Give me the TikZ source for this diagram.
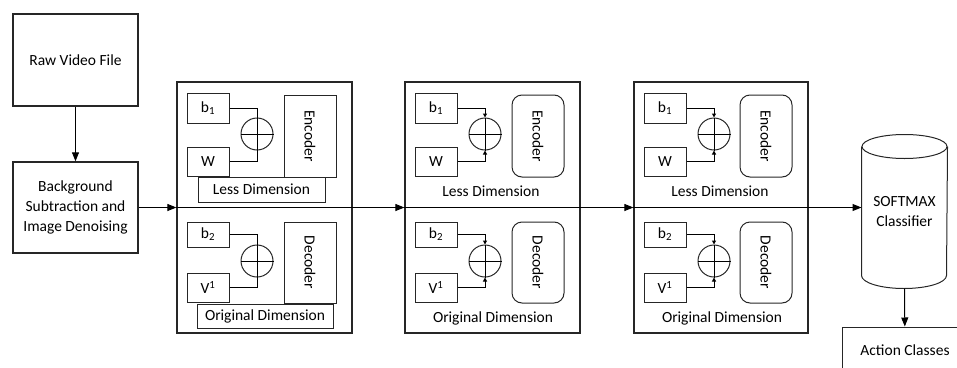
\documentclass[tikz,border=0pt]{standalone}
\usepackage{fontspec}
\setmainfont{Carlito}
\usetikzlibrary{arrows.meta,positioning}

\tikzset{
  box/.style={draw=black!85,line width=1.4pt,inner sep=0pt,align=center},
  layer/.style={draw=black!85,line width=1.2pt,minimum width=175pt,minimum height=251pt},
  par/.style={draw=black!85,line width=1pt,minimum width=42pt,inner sep=0pt},
  sum/.style={circle,draw=black!85,line width=1pt,minimum size=32pt,inner sep=0pt},
  coder/.style={draw=black!85,line width=1pt,rotate=-90,minimum height=52pt,inner sep=0pt},
  dimbox/.style={draw=black!85,line width=1pt,inner sep=0pt},
  tip/.style={-{Triangle[length=4pt,width=4pt]}}
}

\begin{document}
\begin{tikzpicture}[x=1pt,y=-1pt,>={Triangle[length=9pt,width=7pt]},
  every node/.append style={font=\fontsize{15.5}{20}\selectfont},
  line width=1pt]
\clip (0,0) rectangle (957,367);

\path
(75.5,60)    node[box,minimum width=125pt,minimum height=92pt] (raw) {Raw Video File}
(75.5,207.5) node[box,minimum width=125pt,minimum height=91pt] (bg) {Background\\Subtraction and\\Image Denoising}
(264.5,207.5) node[layer] (L1) {}
(492.5,207.5) node[layer] (L2) {}
(721,207.5)   node[layer,minimum width=174pt] (L3) {};

% layer 1
\path
(208,108)   node[par,minimum height=30pt] (b11) {b\textsubscript{1}}
(208,161.5) node[par,minimum height=29pt] (w1) {W}
(257,134)   node[sum] (s11) {}
(310,136)   node[coder,minimum width=82pt] (enc1) {Encoder}
(261.5,189.5) node[dimbox,minimum width=127pt,minimum height=25pt] (ld1) {Less Dimension}
(208,234.5) node[par,minimum height=25pt] (b21) {b\textsubscript{2}}
(208,287.5) node[par,minimum height=29pt] (v1) {V\textsuperscript{1}}
(257,261)   node[sum] (s21) {}
(310,262.5) node[coder,minimum width=81pt] (dec1) {Decoder}
(265,316)   node[dimbox,minimum width=136pt,minimum height=24pt] (od1) {Original Dimension};

% layer 2
\path
(436,108)   node[par,minimum height=30pt] (b12) {b\textsubscript{1}}
(436,161.5) node[par,minimum height=29pt] (w2) {W}
(485,134)   node[sum] (s12) {}
(538,136)   node[coder,rounded corners=10pt,minimum width=82pt] (enc2) {Encoder}
(491,191)   node (ld2) {Less Dimension}
(436,234.5) node[par,minimum height=25pt] (b22) {b\textsubscript{2}}
(436,287.5) node[par,minimum height=29pt] (v2) {V\textsuperscript{1}}
(485,261)   node[sum] (s22) {}
(538,262.5) node[coder,rounded corners=10pt,minimum width=81pt] (dec2) {Decoder}
(493,318)   node (od2) {Original Dimension};

% layer 3
\path
(665,108)   node[par,minimum height=30pt] (b13) {b\textsubscript{1}}
(665,161.5) node[par,minimum height=29pt] (w3) {W}
(714,134)   node[sum] (s13) {}
(766,136)   node[coder,rounded corners=10pt,minimum width=82pt] (enc3) {Encoder}
(720,191)   node (ld3) {Less Dimension}
(665,234.5) node[par,minimum height=25pt] (b23) {b\textsubscript{2}}
(665,287.5) node[par,minimum height=29pt] (v3) {V\textsuperscript{1}}
(714,261)   node[sum] (s23) {}
(766,262.5) node[coder,rounded corners=10pt,minimum width=81pt] (dec3) {Decoder}
(722,318)   node (od3) {Original Dimension};

% classifier drum
\path
(904.5,211.5) node[minimum width=85pt,minimum height=153pt,inner sep=0pt,align=center] (soft) {SOFTMAX\\Classifier}
(905,350) node[box,line width=1pt,minimum width=126pt,minimum height=46pt] (act) {Action Classes};
\draw[black!85] ([yshift=-12pt]soft.north) ellipse [x radius=42.5pt,y radius=12pt];
\draw[black!85] ([yshift=-12pt]soft.north west) -- ([yshift=13pt]soft.south west)
  arc[start angle=180,end angle=360,x radius=42.5pt,y radius=13pt] -- ([yshift=-12pt]soft.north east);

\draw[->] (raw)--(bg);
\draw[->] (bg)--(L1);
\draw[->] (L1.west)--(L2.west);
\draw[->] (L2.west)--(L3.west);
\draw[->] (L3.west)--(L3.west -| soft.west);
\draw[->] (soft.south)--(act);

\foreach \s in {s11,s21,s12,s22,s13,s23}
  \draw (\s.north)--(\s.south) (\s.west)--(\s.east);

\draw (b11) -| (s11);
\draw (w1) -| (s11);
\draw (b21) -| (s21);
\draw (v1) -| (s21);
\draw[tip] (b12) -| (s12);
\draw[tip] (w2) -| (s12);
\draw[tip] (b22) -| (s22);
\draw[tip] (v2) -| (s22);
\draw[tip] (b13) -| (s13);
\draw[tip] (w3) -| (s13);
\draw[tip] (b23) -| (s23);
\draw[tip] (v3) -| (s23);
\end{tikzpicture}
\end{document}
